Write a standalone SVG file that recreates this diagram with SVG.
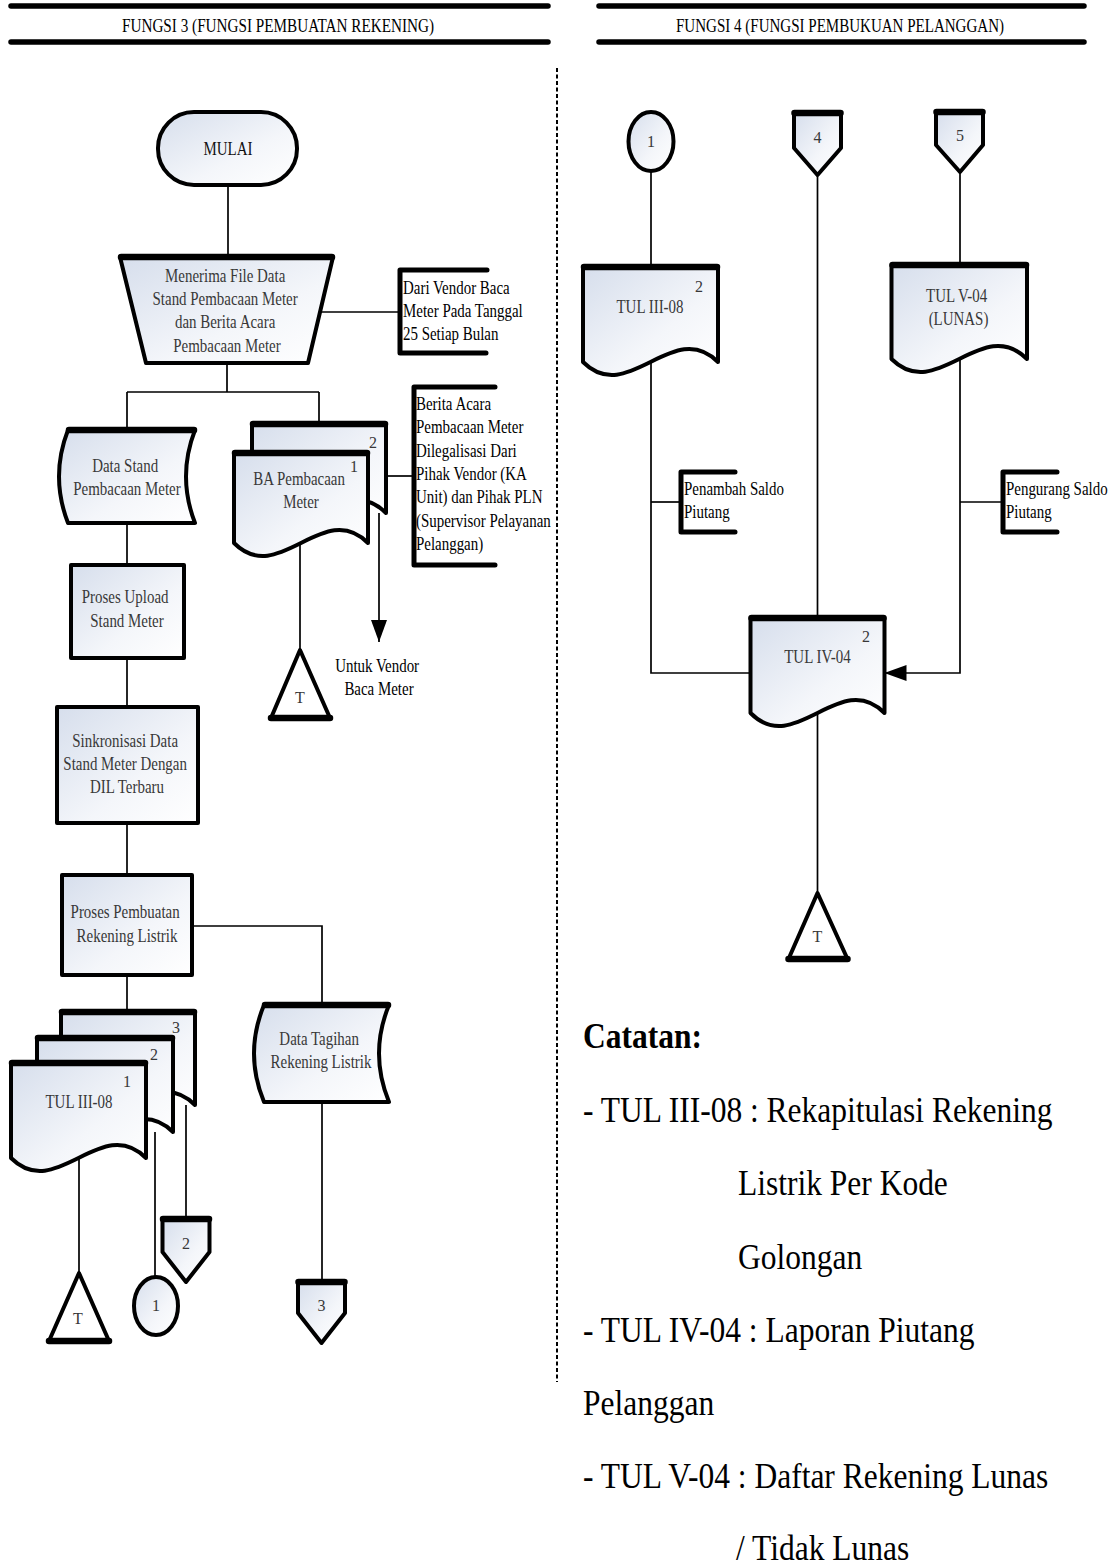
<svg xmlns="http://www.w3.org/2000/svg" width="1113" height="1568" viewBox="0 0 1113 1568">
  <style>
    .bg{fill:#fff}
    .shape{fill:url(#g);stroke:#000;stroke-width:4;stroke-linejoin:round}
    .plain{fill:#fff;stroke:#000;stroke-width:4;stroke-linejoin:round}
    .top{stroke:#000;stroke-width:6.5;stroke-linecap:round;fill:none}
    .bracket{fill:none;stroke:#000;stroke-width:5;stroke-linecap:round;stroke-linejoin:round}
    .bar{stroke:#000;stroke-width:5.5;stroke-linecap:round}
    .wire{fill:none;stroke:#000;stroke-width:1.7}
    .arrow{fill:none;stroke:#000;stroke-width:1.7;marker-end:url(#ah)}
    .divider{stroke:#000;stroke-width:2;stroke-dasharray:4 2.5}
    text{font-family:"Liberation Serif","Times New Roman",serif}
    .in{font-size:18px;fill:#383838;text-anchor:middle}
    .num{font-size:16px;fill:#383838;text-anchor:middle}
    .lbl{font-size:18px;fill:#000}
    .lblc{font-size:18px;fill:#000;text-anchor:middle}
    .hdr{font-size:18px;fill:#000;text-anchor:middle}
    .note{font-size:35px;fill:#000}
    .noteb{font-size:35px;font-weight:bold;fill:#000}
  </style>
  <defs>
    <linearGradient id="g" x1="0" y1="0" x2="1" y2="1">
      <stop offset="0" stop-color="#d6deec"/>
      <stop offset="0.6" stop-color="#f4f6fa"/>
      <stop offset="1" stop-color="#ffffff"/>
    </linearGradient>
    <marker id="ah" markerUnits="userSpaceOnUse" markerWidth="22" markerHeight="16" refX="22" refY="8" orient="auto">
      <path d="M0,0 L22,8 L0,16 Z" fill="#000"/>
    </marker>
  </defs>

  <rect class="bg" x="0" y="0" width="1113" height="1568"/>

  <!-- lane headers -->
  <g id="header-fungsi3">
    <line class="bar" x1="11" y1="6" x2="548" y2="6"/>
    <line class="bar" x1="11" y1="42" x2="548" y2="42"/>
    <text class="hdr" x="278" y="32" textLength="312" lengthAdjust="spacingAndGlyphs">FUNGSI 3 (FUNGSI PEMBUATAN REKENING)</text>
  </g>
  <g id="header-fungsi4">
    <line class="bar" x1="599" y1="6" x2="1084" y2="6"/>
    <line class="bar" x1="599" y1="42" x2="1084" y2="42"/>
    <text class="hdr" x="840" y="32" textLength="328" lengthAdjust="spacingAndGlyphs">FUNGSI 4 (FUNGSI PEMBUKUAN PELANGGAN)</text>
  </g>

  <!-- lane divider -->
  <line class="divider" x1="557" y1="68" x2="557" y2="1382"/>

  <!-- connectors (drawn beneath the symbols) -->
  <g id="connectors">
    <path class="wire" d="M228,185 V257"/>
    <path class="wire" d="M320,312 H400"/>
    <path class="wire" d="M227,363 V392 M127,392 H319 M127,392 V430 M319,392 V424"/>
    <path class="wire" d="M386,476 H414"/>
    <path class="wire" d="M300,543 V650"/>
    <path class="arrow" d="M379,513 V642"/>
    <path class="wire" d="M127,523 V565"/>
    <path class="wire" d="M127,658 V707"/>
    <path class="wire" d="M127,823 V875"/>
    <path class="wire" d="M127,975 V1012"/>
    <path class="wire" d="M192,926 H322 V1005"/>
    <path class="wire" d="M322,1102 V1282"/>
    <path class="wire" d="M79,1158 V1273"/>
    <path class="wire" d="M155,1132 V1277"/>
    <path class="wire" d="M186,1105 V1219"/>

    <path class="wire" d="M651,171 V267"/>
    <path class="wire" d="M651,362 V673 H750.5"/>
    <path class="wire" d="M651,502 H681"/>
    <path class="wire" d="M817.5,175 V618"/>
    <path class="wire" d="M817.5,713 V893"/>
    <path class="wire" d="M960,172 V265"/>
    <path class="arrow" d="M960,359 V673 H884.5"/>
    <path class="wire" d="M960,502 H1003"/>
  </g>

  <!-- FUNGSI 3 -->
  <g id="mulai">
    <rect class="shape" x="158" y="112" width="139" height="73" rx="36" ry="36"/>
    <text class="in" transform="matrix(.83 0 0 1 228 0)" style="fill:#111"><tspan x="0" y="155">MULAI</tspan></text>
  </g>

  <g id="menerima-file">
    <path class="shape" d="M120,257 H333 L308,363 H146 Z"/>
    <line class="top" x1="121" y1="257" x2="332" y2="257"/>
    <text class="in" transform="matrix(.83 0 0 1 227 0)">
      <tspan x="0" y="282">Menerima File Data</tspan>
      <tspan x="0" y="305">Stand Pembacaan Meter</tspan>
      <tspan x="0" y="328">dan Berita Acara</tspan>
      <tspan x="0" y="352">Pembacaan Meter</tspan>
    </text>
  </g>

  <g id="note-vendor">
    <path class="bracket" d="M487,270 H400 V353 H486"/>
    <text class="lbl" transform="matrix(.83 0 0 1 403 0)">
      <tspan x="0" y="294">Dari Vendor Baca</tspan>
      <tspan x="0" y="317">Meter Pada Tanggal</tspan>
      <tspan x="0" y="340">25 Setiap Bulan</tspan>
    </text>
  </g>

  <g id="data-stand">
    <path class="shape" d="M68,430 H195 Q177,476.5 195,523 H68 Q50,476.5 68,430 Z"/>
    <line class="top" x1="69" y1="430" x2="194" y2="430"/>
    <text class="in" transform="matrix(.83 0 0 1 127 0)">
      <tspan x="0" y="472">Data Stand</tspan>
      <tspan x="0" y="495">Pembacaan Meter</tspan>
    </text>
  </g>

  <g id="ba-pembacaan">
    <path class="shape" d="M252,424 H386 V513 C341.3,468 296.7,558 252,513 Z"/>
    <line class="top" x1="253" y1="424" x2="385" y2="424"/>
    <text class="num" x="373" y="448">2</text>
    <path class="shape" d="M234,453 H368 V543 C323.3,498 278.7,588 234,543 Z"/>
    <line class="top" x1="235" y1="453" x2="367" y2="453"/>
    <text class="num" x="354" y="472">1</text>
    <text class="in" transform="matrix(.83 0 0 1 301 0)">
      <tspan x="0" y="485">BA Pembacaan</tspan>
      <tspan x="0" y="508">Meter</tspan>
    </text>
  </g>

  <g id="note-berita-acara">
    <path class="bracket" d="M495,387 H414 V565 H495"/>
    <text class="lbl" transform="matrix(.83 0 0 1 416 0)">
      <tspan x="0" y="410">Berita Acara</tspan>
      <tspan x="0" y="433.5">Pembacaan Meter</tspan>
      <tspan x="0" y="457">Dilegalisasi Dari</tspan>
      <tspan x="0" y="480">Pihak Vendor (KA</tspan>
      <tspan x="0" y="503.5">Unit) dan Pihak PLN</tspan>
      <tspan x="0" y="527">(Supervisor Pelayanan</tspan>
      <tspan x="0" y="550">Pelanggan)</tspan>
    </text>
  </g>

  <g id="arsip-ba">
    <path class="plain" d="M300,650 L330,718 H271 Z"/>
    <line class="top" x1="271" y1="718" x2="330" y2="718"/>
    <text class="num" x="300" y="703">T</text>
  </g>

  <g id="label-untuk-vendor">
    <text class="lblc" transform="matrix(.83 0 0 1 379 0)">
      <tspan x="0" y="672">Untuk Vendor</tspan>
      <tspan x="0" y="695">Baca Meter</tspan>
    </text>
  </g>

  <g id="proses-upload">
    <rect class="shape" x="71" y="565" width="113" height="93"/>
    <text class="in" transform="matrix(.83 0 0 1 127 0)">
      <tspan x="0" y="603">Proses Upload</tspan>
      <tspan x="0" y="627">Stand Meter</tspan>
    </text>
  </g>

  <g id="sinkronisasi">
    <rect class="shape" x="57" y="707" width="141" height="116"/>
    <text class="in" transform="matrix(.83 0 0 1 127 0)">
      <tspan x="0" y="747">Sinkronisasi Data</tspan>
      <tspan x="0" y="770">Stand Meter Dengan</tspan>
      <tspan x="0" y="793">DIL Terbaru</tspan>
    </text>
  </g>

  <g id="proses-pembuatan">
    <rect class="shape" x="62" y="875" width="130" height="100"/>
    <text class="in" transform="matrix(.83 0 0 1 127 0)">
      <tspan x="0" y="918">Proses Pembuatan</tspan>
      <tspan x="0" y="942">Rekening Listrik</tspan>
    </text>
  </g>

  <g id="tul-iii-08-stack">
    <path class="shape" d="M61,1012 H195 V1105 C150.3,1060 105.7,1150 61,1105 Z"/>
    <line class="top" x1="62" y1="1012" x2="194" y2="1012"/>
    <text class="num" x="176" y="1033">3</text>
    <path class="shape" d="M37,1038 H173 V1132 C127.7,1087 82.3,1177 37,1132 Z"/>
    <line class="top" x1="38" y1="1038" x2="172" y2="1038"/>
    <text class="num" x="154" y="1060">2</text>
    <path class="shape" d="M11,1063 H146 V1158 C101,1113 56,1203 11,1158 Z"/>
    <line class="top" x1="12" y1="1063" x2="145" y2="1063"/>
    <text class="num" x="127" y="1087">1</text>
    <text class="in" transform="matrix(.83 0 0 1 79 0)"><tspan x="0" y="1108">TUL III-08</tspan></text>
  </g>

  <g id="data-tagihan">
    <path class="shape" d="M264,1005 H389 Q369,1053.5 389,1102 H264 Q244,1053.5 264,1005 Z"/>
    <line class="top" x1="265" y1="1005" x2="388" y2="1005"/>
    <text class="in" transform="matrix(.83 0 0 1 321 0)">
      <tspan x="0" y="1045">Data Tagihan</tspan>
      <tspan x="0" y="1068">Rekening Listrik</tspan>
    </text>
  </g>

  <g id="arsip-tul">
    <path class="plain" d="M79,1273 L109,1341 H49 Z"/>
    <line class="top" x1="49" y1="1341" x2="109" y2="1341"/>
    <text class="num" x="78" y="1324">T</text>
  </g>

  <g id="conn-1-out">
    <ellipse class="shape" cx="156" cy="1306" rx="22" ry="29"/>
    <text class="num" x="156" y="1311">1</text>
  </g>

  <g id="offpage-2-out">
    <path class="shape" d="M162.5,1219 H209.5 V1252 L186,1282 L162.5,1252 Z"/>
    <line class="top" x1="163" y1="1219" x2="209" y2="1219"/>
    <text class="num" x="186" y="1249">2</text>
  </g>

  <g id="offpage-3-out">
    <path class="shape" d="M298,1282 H345 V1313 L321.5,1343 L298,1313 Z"/>
    <line class="top" x1="298.5" y1="1282" x2="344.5" y2="1282"/>
    <text class="num" x="321.5" y="1311">3</text>
  </g>

  <!-- FUNGSI 4 -->
  <g id="conn-1-in">
    <ellipse class="shape" cx="651" cy="141.5" rx="22.5" ry="29.5"/>
    <text class="num" x="651" y="147">1</text>
  </g>

  <g id="offpage-4-in">
    <path class="shape" d="M794,113 H841 V148 L817.5,175 L794,148 Z"/>
    <line class="top" x1="794.5" y1="113" x2="840.5" y2="113"/>
    <text class="num" x="817.5" y="143">4</text>
  </g>

  <g id="offpage-5-in">
    <path class="shape" d="M936,112 H983 V145 L960,172 L936,145 Z"/>
    <line class="top" x1="936.5" y1="112" x2="982.5" y2="112"/>
    <text class="num" x="960" y="141">5</text>
  </g>

  <g id="tul-iii-08">
    <path class="shape" d="M583,267 H718 V362 C673,317 628,407 583,362 Z"/>
    <line class="top" x1="584" y1="267" x2="717" y2="267"/>
    <text class="num" x="699" y="292">2</text>
    <text class="in" transform="matrix(.83 0 0 1 650 0)"><tspan x="0" y="313">TUL III-08</tspan></text>
  </g>

  <g id="tul-v-04">
    <path class="shape" d="M891.5,265 H1027 V359 C981.8,314 936.7,404 891.5,359 Z"/>
    <line class="top" x1="892.5" y1="265" x2="1026" y2="265"/>
    <text class="in" transform="matrix(.83 0 0 1 958.5 0)">
      <tspan x="0" y="302">TUL V-04</tspan>
      <tspan x="0" y="325">(LUNAS)</tspan>
    </text>
  </g>

  <g id="note-penambah">
    <path class="bracket" d="M735,472 H681 V532 H735"/>
    <text class="lbl" transform="matrix(.83 0 0 1 684 0)">
      <tspan x="0" y="495">Penambah Saldo</tspan>
      <tspan x="0" y="518">Piutang</tspan>
    </text>
  </g>

  <g id="note-pengurang">
    <path class="bracket" d="M1057,472 H1003 V532 H1057"/>
    <text class="lbl" transform="matrix(.83 0 0 1 1006 0)">
      <tspan x="0" y="495">Pengurang Saldo</tspan>
      <tspan x="0" y="518">Piutang</tspan>
    </text>
  </g>

  <g id="tul-iv-04">
    <path class="shape" d="M750.5,618 H884.5 V713 C839.8,668 795.2,758 750.5,713 Z"/>
    <line class="top" x1="751.5" y1="618" x2="883.5" y2="618"/>
    <text class="num" x="866" y="642">2</text>
    <text class="in" transform="matrix(.83 0 0 1 817.5 0)"><tspan x="0" y="663">TUL IV-04</tspan></text>
  </g>

  <g id="arsip-tul-iv">
    <path class="plain" d="M817.5,893 L847.5,959 H788.5 Z"/>
    <line class="top" x1="788.5" y1="959" x2="847.5" y2="959"/>
    <text class="num" x="817.5" y="942">T</text>
  </g>

  <!-- notes -->
  <g id="catatan">
    <text class="noteb" transform="matrix(.9 0 0 1 583 0)"><tspan x="0" y="1048">Catatan:</tspan></text>
    <text class="note" transform="matrix(.9 0 0 1 583 0)">
      <tspan x="0" y="1122">- TUL III-08 : Rekapitulasi Rekening</tspan>
      <tspan x="172.2" y="1195">Listrik Per Kode</tspan>
      <tspan x="172.2" y="1269">Golongan</tspan>
      <tspan x="0" y="1342">- TUL IV-04 : Laporan Piutang</tspan>
      <tspan x="0" y="1415">Pelanggan</tspan>
      <tspan x="0" y="1488">- TUL V-04 : Daftar Rekening Lunas</tspan>
      <tspan x="170" y="1560">/ Tidak Lunas</tspan>
    </text>
  </g>
</svg>
